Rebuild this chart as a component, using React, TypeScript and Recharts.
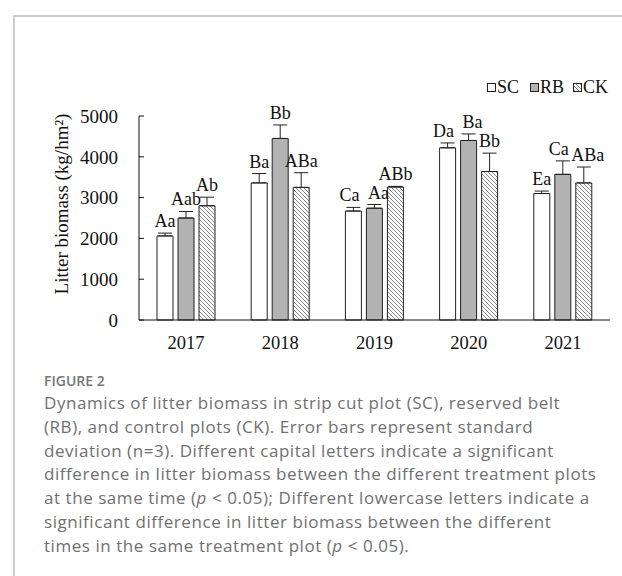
import React from "react";
import {
  BarChart,
  Bar,
  XAxis,
  YAxis,
  Legend,
  ErrorBar,
  LabelList,
} from "recharts";

// values (kg/hm2)
const years = ["2017", "2018", "2019", "2020", "2021"];
const scValues = [2060, 3360, 2670, 4220, 3100];
const scErrors = [70, 230, 90, 120, 60];
const rbValues = [2500, 4450, 2740, 4400, 3570];
const rbErrors = [160, 330, 90, 160, 330];
const ckValues = [2800, 3250, 3260, 3640, 3360];
const ckErrors = [210, 360, 15, 450, 390];
const scLetters = ["Aa", "Ba", "Ca", "Da", "Ea"];
const rbLetters = ["Aab", "Bb", "Aa", "Ba", "Ca"];
const ckLetters = ["Ab", "ABa", "ABb", "Bb", "ABa"];
const yTicks = [0, 1000, 2000, 3000, 4000, 5000];

const serif = "'Liberation Serif', 'Times New Roman', serif";

const data = years.map((year, i) => ({
  year,
  SC: scValues[i],
  RB: rbValues[i],
  CK: ckValues[i],
  scErr: [0, scErrors[i]],
  rbErr: [0, rbErrors[i]],
  ckErr: [0, ckErrors[i]],
  scLetter: scLetters[i],
  rbLetter: rbLetters[i],
  ckLetter: ckLetters[i],
}));

type Series = { values: number[]; errors: number[] } | null;

// letter sits just above the error bar cap; nudged sideways when a
// neighbouring letter ends up at nearly the same height
const makeLabel =
  (values: number[], errors: number[], left: Series, right: Series) =>
  (props: any) => {
    const { x, y, width, height, value, index } = props;
    const v = values[index];
    const k = v ? height / v : 0;
    const top = (v + errors[index]) * k;
    let dx = 0;
    if (left && Math.abs(top - (left.values[index] + left.errors[index]) * k) < 10) dx += 4;
    if (right && Math.abs(top - (right.values[index] + right.errors[index]) * k) < 10) dx -= 4;
    return (
      <text
        x={x + width / 2 + dx}
        y={y - errors[index] * k - 6}
        textAnchor="middle"
        fontFamily={serif}
        fontSize={18}
        fill="#111"
      >
        {value}
      </text>
    );
  };

const sc = { values: scValues, errors: scErrors };
const rb = { values: rbValues, errors: rbErrors };
const ck = { values: ckValues, errors: ckErrors };

const legendItems = [
  { name: "SC", fill: "#ffffff" },
  { name: "RB", fill: "#b3b3b3" },
  { name: "CK", fill: "url(#hatch)" },
];

const renderLegend = () => (
  <svg width={130} height={20}>
    {legendItems.map((item, i) => {
      const x0 = i * 43;
      return (
        <g key={item.name}>
          <rect x={x0 + 1.5} y={5.5} width={8} height={8} fill={item.fill} stroke="#222" strokeWidth={1} />
          <text x={x0 + 11} y={15} fontFamily={serif} fontSize={18} fill="#111">
            {item.name}
          </text>
        </g>
      );
    })}
  </svg>
);

const renderYLabel = () => (
  <text
    x={61}
    y={204}
    transform="rotate(-90 61 204)"
    textAnchor="middle"
    dominantBaseline="central"
    fontFamily={serif}
    fontSize={19}
    fill="#111"
  >
    Litter biomass (kg/hm²)
  </text>
);

const captionLines = [
  "Dynamics of litter biomass in strip cut plot (SC), reserved belt",
  "(RB), and control plots (CK). Error bars represent standard",
  "deviation (n=3). Different capital letters indicate a significant",
  "difference in litter biomass between the different treatment plots",
];

export default function App() {
  return (
    <div
      style={{
        position: "absolute",
        left: 0,
        top: 0,
        width: 622,
        height: 576,
        background: "#fff",
        overflow: "hidden",
      }}
    >
      <div
        style={{
          position: "absolute",
          left: 13,
          top: 15,
          right: 0,
          bottom: 0,
          borderTop: "2px solid #cccccc",
          borderLeft: "2px solid #cccccc",
        }}
      />
      <div style={{ position: "absolute", left: 0, top: 0 }}>
        <BarChart
          width={622}
          height={360}
          data={data}
          margin={{ top: 96, right: 12, left: 0, bottom: 10 }}
          barSize={16}
          barGap={5}
        >
          <defs>
            <pattern id="hatch" patternUnits="userSpaceOnUse" width={4} height={4}>
              <rect width={4} height={4} fill="#ffffff" />
              <path d="M-1,-1 L5,5 M-1,3 L1,5 M3,-1 L5,1" stroke="#666" strokeWidth={0.8} />
            </pattern>
          </defs>
          <XAxis
            dataKey="year"
            axisLine={{ stroke: "#111", strokeWidth: 1 }}
            tickLine={false}
            tickSize={0}
            tickMargin={16}
            height={30}
            tick={{ fontFamily: serif, fontSize: 18.5, fill: "#111" }}
          />
          <YAxis
            domain={[0, 5000]}
            ticks={yTicks}
            width={139}
            axisLine={{ stroke: "#111", strokeWidth: 1 }}
            tickLine={{ stroke: "#111", strokeWidth: 1 }}
            tickSize={-5}
            tickMargin={26}
            tick={{ fontFamily: serif, fontSize: 19, fill: "#111" }}
            label={{ content: renderYLabel }}
          />
          <Legend
            verticalAlign="top"
            content={renderLegend}
            wrapperStyle={{ position: "absolute", top: 78, left: 486, width: 130, height: 20 }}
          />
          <Bar dataKey="SC" fill="#ffffff" stroke="#222" strokeWidth={1} isAnimationActive={false}>
            <ErrorBar dataKey="scErr" width={7} stroke="#222" strokeWidth={1} direction="y" />
            <LabelList dataKey="scLetter" content={makeLabel(scValues, scErrors, null, rb)} />
          </Bar>
          <Bar dataKey="RB" fill="#b3b3b3" stroke="#222" strokeWidth={1} isAnimationActive={false}>
            <ErrorBar dataKey="rbErr" width={7} stroke="#222" strokeWidth={1} direction="y" />
            <LabelList dataKey="rbLetter" content={makeLabel(rbValues, rbErrors, sc, ck)} />
          </Bar>
          <Bar dataKey="CK" fill="url(#hatch)" stroke="#222" strokeWidth={1} isAnimationActive={false}>
            <ErrorBar dataKey="ckErr" width={7} stroke="#222" strokeWidth={1} direction="y" />
            <LabelList dataKey="ckLetter" content={makeLabel(ckValues, ckErrors, rb, null)} />
          </Bar>
        </BarChart>
      </div>
      <div
        style={{
          position: "absolute",
          left: 44,
          top: 371,
          fontFamily: "'Open Sans', 'Noto Sans', sans-serif",
          color: "#707070",
        }}
      >
        <div style={{ fontSize: 14, fontWeight: 600, lineHeight: "20px", color: "#777" }}>FIGURE 2</div>
        <div style={{ fontSize: 17, lineHeight: "23.8px", letterSpacing: "0.55px" }}>
          {captionLines.map((line) => (
            <div key={line} style={{ whiteSpace: "nowrap" }}>
              {line}
            </div>
          ))}
          <div style={{ whiteSpace: "nowrap" }}>
            at the same time (<i>p</i> &lt; 0.05); Different lowercase letters indicate a
          </div>
          <div style={{ whiteSpace: "nowrap" }}>
            significant difference in litter biomass between the different
          </div>
          <div style={{ whiteSpace: "nowrap" }}>
            times in the same treatment plot (<i>p</i> &lt; 0.05).
          </div>
        </div>
      </div>
    </div>
  );
}
